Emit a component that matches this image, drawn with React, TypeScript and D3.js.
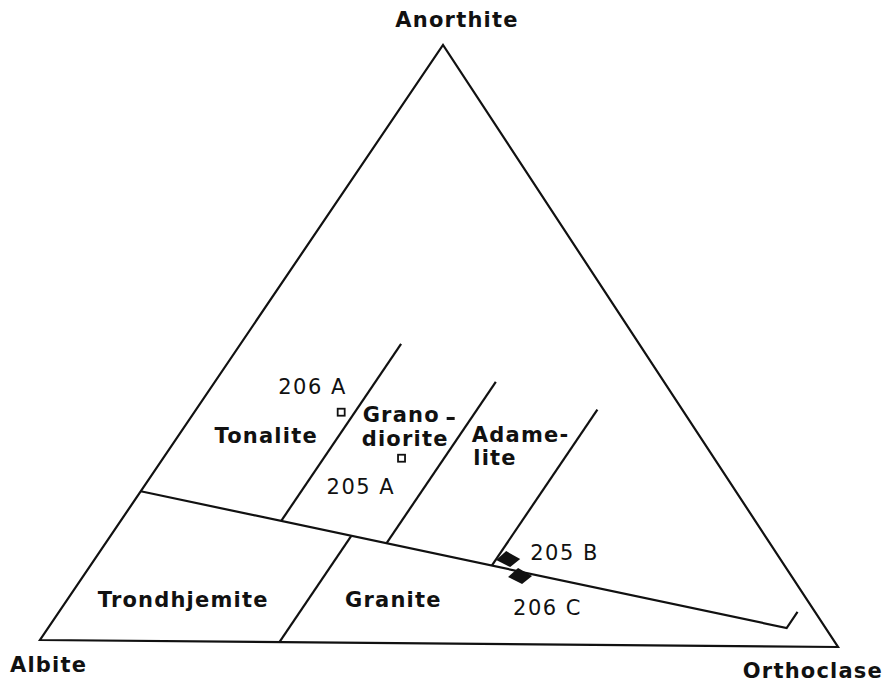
import { useEffect, useRef } from "react";
import * as d3 from "d3";

// ternary end members
const endMembers = ["Albite", "Orthoclase", "Anorthite"];

// field boundaries, each point is [An %, Or %]
const plagioclaseLine = [[25, 0], [3.1, 92], [5.8, 92]];
const trondhjemiteGranite = [[0, 30], [17.8, 30]];
const tonaliteGranodiorite = [[20.3, 20], [50, 20]];
const granodioriteAdamellite = [[16.7, 35], [43.8, 35]];
const adamelliteLimit = [[13.1, 50], [39.3, 50]];

// rock fields and where their names sit, [An %, Or %]
const fieldNames = ["Tonalite", "Grano", "diorite", "Adame-", "lite", "Trondhjemite", "Granite"];
const fieldAn = [33.2, 36.9, 32.9, 33.7, 29.9, 5.6, 6.0];
const fieldOr = [5.1, 21.8, 23.7, 37.1, 39.2, 4.4, 35.2];

// samples
const sampleNames = ["206 A", "205 A", "205 B", "206 C"];
const sampleAn = [38.5, 30.9, 14.2, 11.4];
const sampleOr = [18.3, 29.7, 51.5, 54.4];
const sampleType = ["open", "open", "filled", "filled"];

// label offsets for the sample names (px)
const sampleLabelOffset = {
  "206 A": [-63, -18],
  "205 A": [-75, 36],
  "205 B": [22, 1],
  "206 C": [-7, 39],
};

const W = 887;
const H = 684;

const App = () => {
  const svgRef = useRef();

  useEffect(() => {
    const svg = d3.select(svgRef.current);
    svg.selectAll("*").remove();

    // corners of the triangle on screen
    const ab = [40, 640];
    const or = [838, 647];
    const an = [443, 45];

    const pct = d3.scaleLinear().domain([0, 100]).range([0, 1]);

    // An, Or in percent -> screen
    const project = (a, o) => {
      const t = pct(a);
      const k = pct(o);
      return [
        ab[0] + k * (or[0] - ab[0]) + t * (an[0] - ab[0]),
        ab[1] + k * (or[1] - ab[1]) + t * (an[1] - ab[1]),
      ];
    };

    const line = d3
      .line()
      .x((d) => project(d[0], d[1])[0])
      .y((d) => project(d[0], d[1])[1]);

    const font = "'DejaVu Sans', sans-serif";

    // triangle outline
    svg
      .append("path")
      .datum([[0, 0], [0, 100], [100, 0]])
      .attr("d", (d) => line(d) + "Z")
      .attr("fill", "none")
      .attr("stroke", "#111")
      .attr("stroke-width", 2.2)
      .attr("stroke-linejoin", "miter");

    // boundaries
    const bounds = [
      plagioclaseLine,
      trondhjemiteGranite,
      tonaliteGranodiorite,
      granodioriteAdamellite,
      adamelliteLimit,
    ];
    svg
      .append("g")
      .selectAll("path")
      .data(bounds)
      .join("path")
      .attr("d", line)
      .attr("fill", "none")
      .attr("stroke", "#111")
      .attr("stroke-width", 2.2);

    // end member labels
    const vertexLabels = [
      { name: endMembers[2], p: an, dx: 14, dy: -18, anchor: "middle" },
      { name: endMembers[0], p: ab, dx: -30, dy: 32, anchor: "start" },
      { name: endMembers[1], p: or, dx: 45, dy: 31, anchor: "end" },
    ];
    svg
      .append("g")
      .selectAll("text")
      .data(vertexLabels)
      .join("text")
      .attr("x", (d) => d.p[0] + d.dx)
      .attr("y", (d) => d.p[1] + d.dy)
      .attr("text-anchor", (d) => d.anchor)
      .attr("font-family", font)
      .attr("font-weight", "bold")
      .attr("font-size", 21)
      .attr("letter-spacing", 1.2)
      .attr("fill", "#111")
      .text((d) => d.name);

    // field names
    svg
      .append("g")
      .selectAll("text")
      .data(fieldNames)
      .join("text")
      .attr("x", (d, i) => project(fieldAn[i], fieldOr[i])[0])
      .attr("y", (d, i) => project(fieldAn[i], fieldOr[i])[1])
      .attr("font-family", font)
      .attr("font-weight", "bold")
      .attr("font-size", 21)
      .attr("letter-spacing", 1.2)
      .attr("fill", "#111")
      .text((d) => d);

    // the low dash after "Grano"
    const gp = project(fieldAn[1], fieldOr[1]);
    svg
      .append("rect")
      .attr("x", gp[0] + 84)
      .attr("y", gp[1] - 5)
      .attr("width", 8)
      .attr("height", 3)
      .attr("fill", "#111");

    // samples
    const samples = sampleNames.map((name, i) => ({
      name,
      p: project(sampleAn[i], sampleOr[i]),
      type: sampleType[i],
    }));

    const diamond = d3.line()([[-12, 1], [-2, -8], [12, 0], [2, 8]]) + "Z";

    const g = svg.append("g");
    g.selectAll("rect")
      .data(samples.filter((d) => d.type === "open"))
      .join("rect")
      .attr("x", (d) => d.p[0] - 3.5)
      .attr("y", (d) => d.p[1] - 3.5)
      .attr("width", 7)
      .attr("height", 7)
      .attr("fill", "white")
      .attr("stroke", "#111")
      .attr("stroke-width", 1.8);

    g.selectAll("path")
      .data(samples.filter((d) => d.type === "filled"))
      .join("path")
      .attr("d", diamond)
      .attr("transform", (d) => `translate(${d.p[0]},${d.p[1]})`)
      .attr("fill", "#111");

    g.selectAll("text")
      .data(samples)
      .join("text")
      .attr("x", (d) => d.p[0] + sampleLabelOffset[d.name][0])
      .attr("y", (d) => d.p[1] + sampleLabelOffset[d.name][1])
      .attr("font-family", font)
      .attr("font-size", 21)
      .attr("letter-spacing", 1.5)
      .attr("fill", "#111")
      .text((d) => d.name);
  }, []);

  return (
    <svg
      ref={svgRef}
      width={W}
      height={H}
      style={{ position: "absolute", left: 0, top: 0, background: "white" }}
    />
  );
};

export default App;
